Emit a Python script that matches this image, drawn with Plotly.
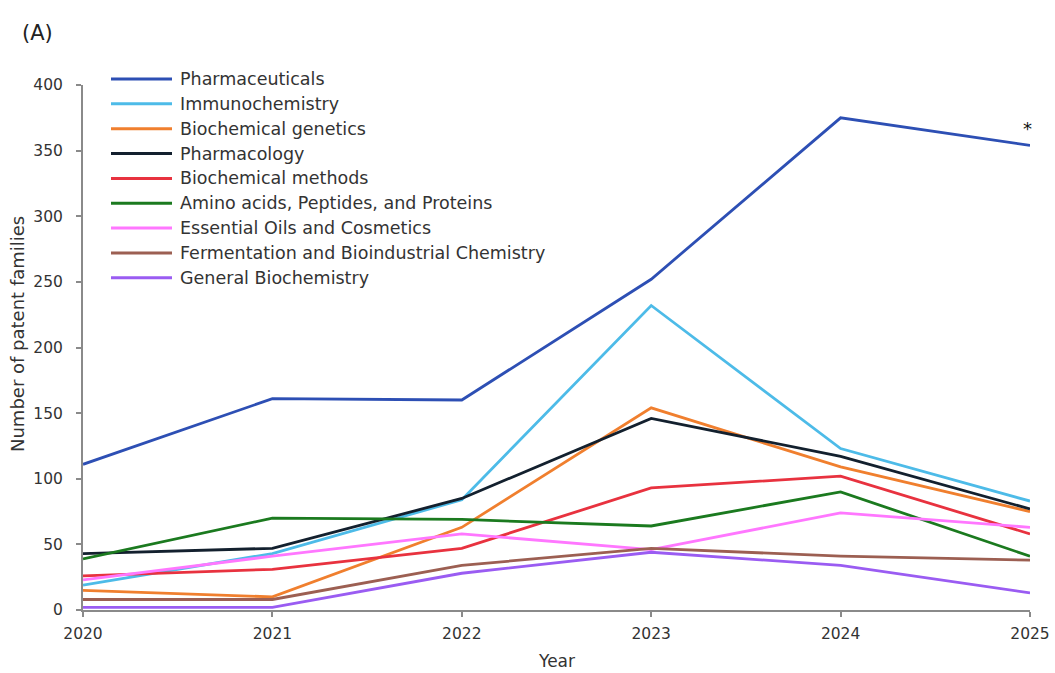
import plotly.graph_objects as go

years = [2020, 2021, 2022, 2023, 2024, 2025]

series_names = [
    "Pharmaceuticals",
    "Immunochemistry",
    "Biochemical genetics",
    "Pharmacology",
    "Biochemical methods",
    "Amino acids, Peptides, and Proteins",
    "Essential Oils and Cosmetics",
    "Fermentation and Bioindustrial Chemistry",
    "General Biochemistry",
]

pharmaceuticals = [111, 161, 160, 252, 375, 354]
immunochemistry = [19, 43, 84, 232, 123, 83]
biochemical_genetics = [15, 10, 63, 154, 109, 75]
pharmacology = [43, 47, 85, 146, 117, 77]
biochemical_methods = [26, 31, 47, 93, 102, 58]
amino_acids = [39, 70, 69, 64, 90, 41]
essential_oils = [23, 41, 58, 46, 74, 63]
fermentation = [8, 8, 34, 47, 41, 38]
general_biochem = [2, 2, 28, 44, 34, 13]

series_values = [
    pharmaceuticals, immunochemistry, biochemical_genetics, pharmacology,
    biochemical_methods, amino_acids, essential_oils, fermentation, general_biochem,
]

colors = ["#2D4FB4", "#4DBBE8", "#F07F2E", "#13202E", "#E8323F",
          "#1B7A1F", "#FF77FF", "#9C5F52", "#9A5CF2"]

W, H = 1055, 673
ML, MR, MT, MB = 83, 25, 85, 63
PW, PH = W - ML - MR, H - MT - MB

FONT = "DejaVu Sans"
TXT = "#333333"
AX = "#8A8A8A"

fig = go.Figure()
for name, vals, col in zip(series_names, series_values, colors):
    fig.add_trace(go.Scatter(x=years, y=vals, mode="lines", name=name,
                             line=dict(color=col, width=2.8), showlegend=False))

def px2paper_x(px):
    return (px - ML) / PW

def px2paper_y(py):
    return (H - MB - py) / PH

# custom legend (long line samples like the reference)
row0, step = 79, 24.85
for i, (name, col) in enumerate(zip(series_names, colors)):
    yy = px2paper_y(row0 + i * step)
    fig.add_shape(type="line", xref="paper", yref="paper",
                  x0=px2paper_x(111), x1=px2paper_x(172), y0=yy, y1=yy,
                  line=dict(color=col, width=3))
    fig.add_annotation(xref="paper", yref="paper", x=px2paper_x(178), y=yy,
                       text=name, showarrow=False, xanchor="left", yanchor="middle",
                       font=dict(family=FONT, size=17.5, color=TXT))

# asterisk on last Pharmaceuticals point
fig.add_annotation(x=years[-1], y=pharmaceuticals[-1], text="*", showarrow=False,
                   xanchor="center", yanchor="bottom", xshift=-3, yshift=4,
                   font=dict(family=FONT, size=18, color="#111111"))

# panel label
fig.add_annotation(xref="paper", yref="paper", x=px2paper_x(20), y=px2paper_y(33),
                   text="(A)", showarrow=False, xanchor="left", yanchor="middle",
                   font=dict(family=FONT, size=21, color="#222222"))

# axis titles
fig.add_annotation(xref="paper", yref="paper", x=px2paper_x(17), y=px2paper_y(334),
                   text="Number of patent families", showarrow=False, textangle=-90,
                   xanchor="center", yanchor="middle",
                   font=dict(family=FONT, size=18, color=TXT))
fig.add_annotation(xref="paper", yref="paper", x=px2paper_x(556), y=px2paper_y(661),
                   text="Year", showarrow=False, xanchor="center", yanchor="middle",
                   font=dict(family=FONT, size=17, color=TXT))

fig.update_layout(
    width=W, height=H,
    margin=dict(l=ML, r=MR, t=MT, b=MB),
    paper_bgcolor="white", plot_bgcolor="white",
    font=dict(family=FONT, size=16, color=TXT),
    xaxis=dict(range=[2020, 2025], tickmode="linear", dtick=1, tick0=2020,
               showgrid=False, zeroline=False, showline=True, linecolor=AX, linewidth=2,
               ticks="outside", ticklen=5, tickcolor=AX, tickwidth=1.5,
               ticklabelstandoff=3,
               tickfont=dict(family=FONT, size=15.5, color=TXT),
               automargin=False),
    yaxis=dict(range=[0, 400], tickmode="linear", dtick=50, tick0=0,
               showgrid=False, zeroline=False, showline=True, linecolor=AX, linewidth=2,
               ticks="outside", ticklen=5, tickcolor=AX, tickwidth=1.5,
               ticklabelstandoff=10,
               tickfont=dict(family=FONT, size=15.5, color=TXT),
               automargin=False),
)

fig.write_html("out.html")
